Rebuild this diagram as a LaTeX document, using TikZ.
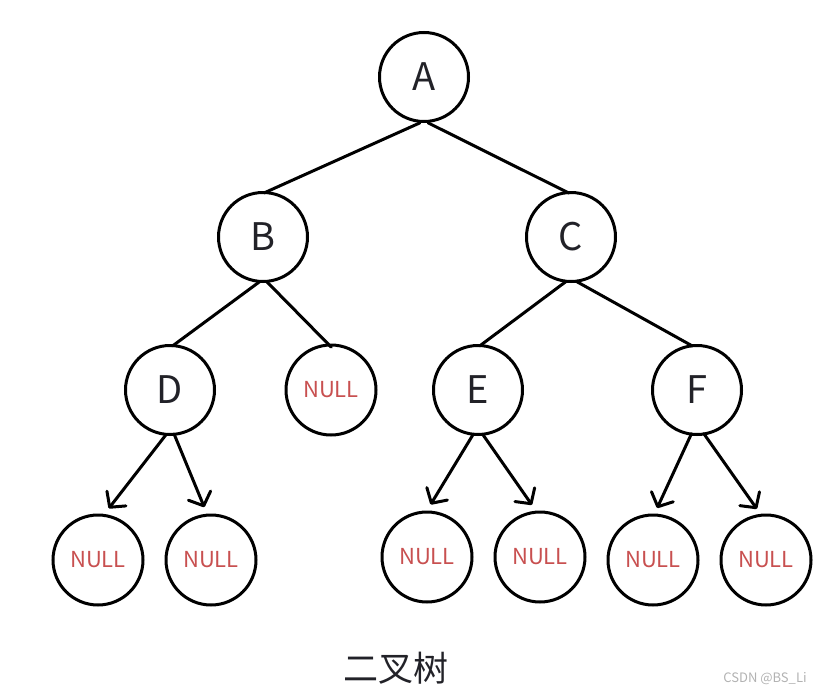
\documentclass[tikz,border=0pt]{standalone}
\usepackage{fontspec}
\setmainfont{Noto Sans CJK SC}
\newfontfamily\cjk{Noto Sans CJK SC}
\usetikzlibrary{arrows.meta}
\definecolor{nullred}{RGB}{200,80,80}
\definecolor{txt}{RGB}{34,34,40}
\begin{document}
\begin{tikzpicture}[x=1pt,y=-1pt,
  tnode/.style={circle,draw=black,line width=3pt,minimum size=89pt,inner sep=0pt,text=txt,font=\fontsize{38}{38}\selectfont},
  nnode/.style={circle,draw=black,line width=3pt,minimum size=90pt,inner sep=0pt,text=nullred,font=\fontsize{22}{22}\selectfont},
  edge/.style={line width=3pt,line cap=round},
  arr/.style={edge,-{Straight Barb[length=11pt,width=24pt,line cap=round,line join=round]}}]
\useasboundingbox (0,0) rectangle (824,696);
\node[tnode] (A) at (424,77) {A};
\node[tnode] (B) at (263,237) {B};
\node[tnode] (C) at (571,237) {C};
\node[tnode] (D) at (170,390) {D};
\node[nnode] (N1) at (331,390) {NULL};
\node[tnode] (E) at (478,390) {E};
\node[tnode] (F) at (697,390) {F};
\node[nnode] (N2) at (98,560) {NULL};
\node[nnode] (N3) at (211,560) {NULL};
\node[nnode] (N4) at (427,557) {NULL};
\node[nnode] (N5) at (540,557) {NULL};
\node[nnode] (N6) at (653,560) {NULL};
\node[nnode] (N7) at (766,560) {NULL};
\draw[edge,shorten >=-4pt] (A.-95) -- (B.84);
\draw[edge,shorten >=-4pt] (A.-85) -- (C.97);
\draw[edge,shorten <=-2pt,shorten >=-3pt] (B.-96) -- (D.84);
\draw[edge,shorten <=-2pt,shorten >=-5pt] (B.-84) -- (N1.94);
\draw[edge,shorten <=-2pt,shorten >=-3pt] (C.-98) -- (E.85);
\draw[edge,shorten <=-2pt,shorten >=-3pt] (C.-81) -- (F.99);
\draw[arr,shorten <=-2pt,shorten >=7pt] (D.-96) -- (N2.82);
\draw[arr,shorten <=-2pt,shorten >=7pt] (D.-84) -- (N3.95);
\draw[arr,shorten <=-2pt,shorten >=7pt] (E.-97) -- (N4.90);
\draw[arr,shorten <=-2pt,shorten >=7pt] (E.-83) -- (N5.95);
\draw[arr,shorten <=-2pt,shorten >=6pt] (F.-98) -- (N6.88);
\draw[arr,shorten <=-2pt,shorten >=6pt] (F.-80) -- (N7.97);
\node[text=txt,font=\cjk\fontsize{35}{35}\selectfont] (cap) at (396,668) {二叉树};
\node[text=black!30,font=\fontsize{13}{13}\selectfont] (wm) at (765,679) {CSDN @BS\_Li};
\end{tikzpicture}
\end{document}
